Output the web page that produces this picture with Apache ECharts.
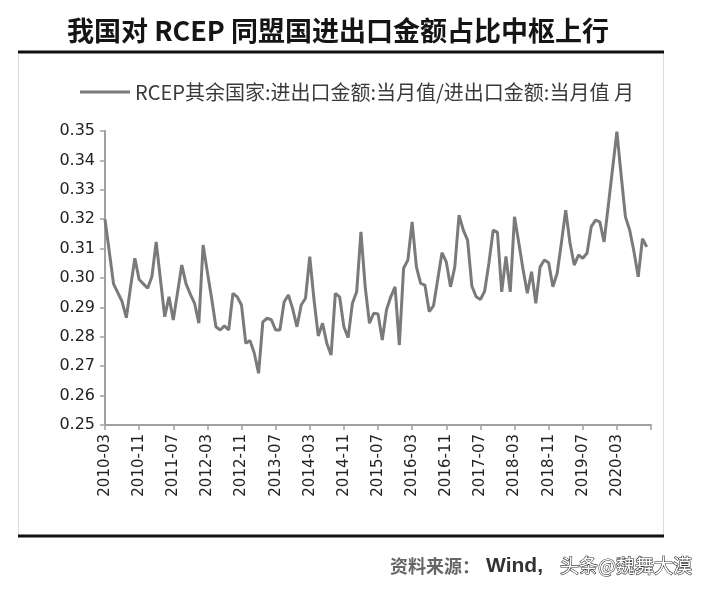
<!DOCTYPE html>
<html>
<head>
<meta charset="utf-8">
<script src="https://cdn.jsdelivr.net/npm/echarts@6/dist/echarts.min.js"></script>
<style>
html,body{margin:0;padding:0;background:#fff;}
#chart{width:712px;height:593px;}
</style>
</head>
<body>
<div id="chart"></div>
<script>
// ---- data ----
var titleText = '我国对 RCEP 同盟国进出口金额占比中枢上行';
var seriesName = 'RCEP其余国家:进出口金额:当月值/进出口金额:当月值 月';
var sourceLabel = '资料来源：';
var sourceName = 'Wind,';
var watermark = '头条@魏舞大漠';
var startYear = 2010, startMonth = 3, monthCount = 129; // 2010-03 .. 2020-11
var yTicks = [0.25, 0.26, 0.27, 0.28, 0.29, 0.30, 0.31, 0.32, 0.33, 0.34, 0.35];
var shareValues = [
  0.320, 0.309, 0.298, 0.295, 0.292, 0.2865, 0.297, 0.3067, 0.2995, 0.298,
  0.2965, 0.3005, 0.3123, 0.2995, 0.2868, 0.2936, 0.2857, 0.295, 0.3044, 0.298,
  0.2945, 0.2914, 0.2846, 0.3112, 0.302, 0.293, 0.2834, 0.2823, 0.2837, 0.2823,
  0.2948, 0.2936, 0.2908, 0.2778, 0.2787, 0.2744, 0.2676, 0.2851, 0.2863, 0.2858,
  0.2823, 0.2823, 0.2919, 0.2942, 0.2895, 0.2834, 0.2908, 0.2931, 0.3073, 0.2925,
  0.2803, 0.2846, 0.2778, 0.2738, 0.2948, 0.2936, 0.2834, 0.2797, 0.2914, 0.2953,
  0.3157, 0.297, 0.2846, 0.288, 0.2878, 0.2789, 0.2892, 0.2936, 0.297, 0.2772,
  0.3033, 0.3061, 0.3191, 0.3038, 0.2982, 0.2976, 0.2886, 0.2905, 0.2995, 0.3086,
  0.3055, 0.297, 0.3038, 0.3214, 0.3163, 0.3129, 0.2973, 0.2936, 0.2927, 0.2955,
  0.305, 0.3163, 0.3155, 0.2953, 0.3073, 0.2953, 0.3208, 0.312, 0.303, 0.2948,
  0.3021, 0.2914, 0.3038, 0.3061, 0.3052, 0.297, 0.3016, 0.312, 0.3231, 0.312,
  0.3044, 0.3078, 0.3067, 0.3084, 0.3175, 0.3197, 0.3191, 0.3123, 0.3248, 0.3373,
  0.3498, 0.335, 0.3208, 0.3163, 0.309, 0.3004, 0.3134, 0.3106
];
var labelStep = 8;        // every 8th month is labelled
var lastLabelIndex = 120; // 2020-03 is the last label shown

// ---- build categories ----
var categories = [];
for (var k = 0; k < monthCount; k++) {
  var m = startMonth - 1 + k;
  var y = startYear + Math.floor(m / 12);
  var mm = (m % 12) + 1;
  categories.push(y + '-' + (mm < 10 ? '0' + mm : '' + mm));
}

var chart = echarts.init(document.getElementById('chart'), null, {renderer: 'canvas'});
var axisGrey = '#a0a0a0';
var option = {
  animation: false,
  backgroundColor: '#fff',
  grid: {left: 105, right: 61, top: 131, bottom: 168, containLabel: false},
  legend: {
    left: 75, top: 77,
    itemWidth: 50, itemHeight: 14, itemGap: 8,
    icon: 'path://M0,6 L50,6 L50,9 L0,9 Z',
    textStyle: {fontSize: 20, color: '#3a3a3a', fontFamily: 'Noto Sans CJK SC'},
    data: [seriesName]
  },
  xAxis: {
    type: 'category',
    data: categories,
    boundaryGap: false,
    axisLine: {lineStyle: {color: axisGrey, width: 2}},
    axisTick: {show: true, interval: labelStep - 1, length: 5, lineStyle: {color: axisGrey, width: 1.5}},
    axisLabel: {
      interval: function (idx) { return idx % labelStep === 0 && idx <= lastLabelIndex; },
      rotate: 90, margin: 9,
      fontSize: 15, color: '#222', fontFamily: 'DejaVu Sans'
    },
    splitLine: {show: false}
  },
  yAxis: {
    type: 'value',
    min: 0.25, max: 0.35, interval: 0.01,
    axisLine: {show: true, lineStyle: {color: axisGrey, width: 2}},
    axisTick: {show: true, length: 5, lineStyle: {color: axisGrey, width: 1.5}},
    axisLabel: {
      margin: 10, fontSize: 16, color: '#222', fontFamily: 'DejaVu Sans',
      formatter: function (v) { return v.toFixed(2); }
    },
    splitLine: {show: false}
  },
  series: [{
    name: seriesName,
    type: 'line',
    data: shareValues,
    symbol: 'none',
    lineStyle: {color: '#7a7a7a', width: 3},
    itemStyle: {color: '#7a7a7a'}
  }],
  graphic: [
    {type: 'rect', silent: true, z: -1,
     shape: {x: 18.5, y: 52, width: 645, height: 484},
     style: {fill: '#fff', stroke: '#dcdcdc', lineWidth: 1}},
    {type: 'line', shape: {x1: 18, y1: 52, x2: 664, y2: 52},
     style: {stroke: '#111', lineWidth: 3}},
    {type: 'line', shape: {x1: 18, y1: 536, x2: 664, y2: 536},
     style: {stroke: '#111', lineWidth: 3}},
    {type: 'text', x: 338, y: 31,
     style: {text: titleText, textAlign: 'center', textVerticalAlign: 'middle',
             font: 'bold 27px "Noto Sans CJK SC"', fill: '#151515'}},
    {type: 'text', x: 390, y: 566,
     style: {text: sourceLabel, textAlign: 'left', textVerticalAlign: 'middle',
             font: 'bold 18px "Noto Sans CJK SC"', fill: '#666'}},
    {type: 'text', x: 486, y: 566,
     style: {text: sourceName, textAlign: 'left', textVerticalAlign: 'middle',
             font: 'bold 21px "Liberation Sans"', fill: '#333'}},
    {type: 'text', x: 560, y: 566,
     style: {text: watermark, textAlign: 'left', textVerticalAlign: 'middle',
             font: '19px "Noto Sans CJK SC"', fill: '#fff', stroke: '#333', lineWidth: 1.2}}
  ]
};
chart.setOption(option);
</script>
</body>
</html>
